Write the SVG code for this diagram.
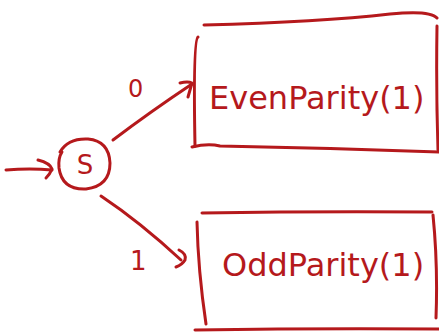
<svg xmlns="http://www.w3.org/2000/svg" width="439" height="332" viewBox="0 0 439 332">
<style>
.s{fill:none;stroke:#b5191c;stroke-width:3;stroke-linecap:round;stroke-linejoin:round}
.t{fill:#b5191c;font-family:"DejaVu Sans",sans-serif}
</style>
<rect width="439" height="332" fill="#fff"/>
<g id="connectors">
  <path class="s" d="M6,170 Q30,168 52,170"/>
  <path class="s" d="M38,160 Q50,163 52,169 Q50,174 46,178"/>
  <path class="s" d="M113,140 Q150,112 192,84"/>
  <path class="s" d="M180,83 Q188,81 192,83 L188,97"/>
  <text class="t" x="128" y="97" font-size="24">0</text>
  <path class="s" d="M101,196 Q140,222 181,260"/>
  <path class="s" d="M179,250 Q187,254 185,260 Q182,265 176,267"/>
  <text class="t" x="130" y="270" font-size="26">1</text>
</g>
<g id="S">
  <path class="s" d="M60,152 Q68,138 88,139 Q109,141 110,163 Q110,186 86,189 Q62,190 59,168 Q58,158 62,152"/>
  <text class="t" x="85" y="174" font-size="26" text-anchor="middle">S</text>
</g>
<g id="EvenParity">
  <path class="s" d="M204,25 Q320,22 390,14 Q430,10 437,18"/>
  <path class="s" d="M198,37 Q193,40 195,146"/>
  <path class="s" d="M437,26 Q436,90 438,150"/>
  <path class="s" d="M192,147 Q208,143 220,146 Q330,148 439,152"/>
  <text class="t" x="209" y="109" font-size="32">EvenParity(1)</text>
</g>
<g id="OddParity">
  <path class="s" d="M202,213 Q320,211 432,212"/>
  <path class="s" d="M197,222 Q198,270 206,324"/>
  <path class="s" d="M433,215 Q438,265 436,318"/>
  <path class="s" d="M195,330 Q320,328 439,329"/>
  <text class="t" x="222" y="276" font-size="32">OddParity(1)</text>
</g>
</svg>
